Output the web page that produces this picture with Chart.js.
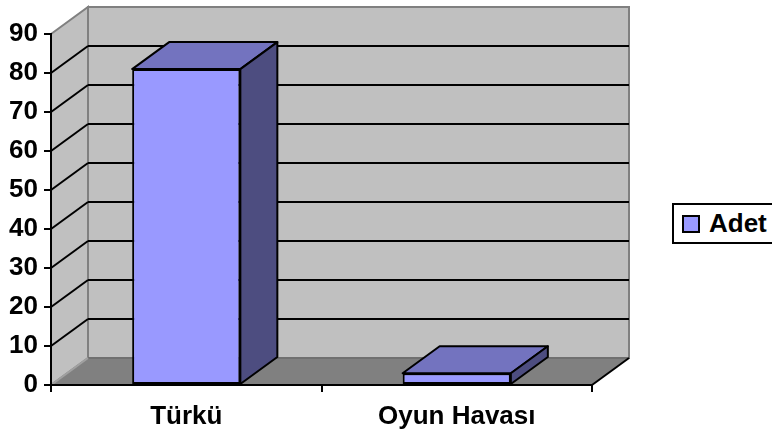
<!DOCTYPE html>
<html>
<head>
<meta charset="utf-8">
<script src="https://cdn.jsdelivr.net/npm/chart.js@4.4.0/dist/chart.umd.min.js"></script>
<style>
    html, body { margin: 0; padding: 0; background: #fff; overflow: hidden; }
    #wrap { position: relative; width: 772px; height: 436px; }
    #legend {
        position: absolute; left: 672px; top: 203px; width: 130px; height: 37px;
        border: 2px solid #000; background: #fff;
        font: bold 26px "Liberation Sans", Arial, sans-serif; color: #000;
        display: flex; align-items: center; box-sizing: content-box;
    }
    #legend .swatch {
        width: 14px; height: 14px; margin-left: 8px; margin-right: 9px;
        border: 2px solid #000; background: #9999FF;
    }
</style>
</head>
<body>
<div id="wrap">
    <canvas id="barChart" width="772" height="436"></canvas>
    <div id="legend"></div>
</div>
<script>
const categories = ['Türkü', 'Oyun Havası'];
const adetValues = [81, 3];
const seriesLabel = 'Adet';
const Y_MAX = 90;
const Y_STEP = 10;

// depth offset of the 3D box (towards the back wall)
const DX = 37;
const DY = -27;

const FONT = { family: '"Liberation Sans", Arial, sans-serif', size: 26, weight: 'bold' };

function poly(ctx, pts, fill, stroke, lw) {
    ctx.beginPath();
    ctx.moveTo(pts[0][0], pts[0][1]);
    for (let i = 1; i < pts.length; i++) ctx.lineTo(pts[i][0], pts[i][1]);
    ctx.closePath();
    if (fill) { ctx.fillStyle = fill; ctx.fill(); }
    if (stroke) { ctx.strokeStyle = stroke; ctx.lineWidth = lw || 2; ctx.stroke(); }
}

function line(ctx, x1, y1, x2, y2, color, lw) {
    ctx.beginPath();
    ctx.moveTo(x1, y1);
    ctx.lineTo(x2, y2);
    ctx.strokeStyle = color;
    ctx.lineWidth = lw || 2;
    ctx.stroke();
}

const box3d = {
    id: 'box3d',
    beforeDraw(chart) {
        const ctx = chart.ctx;
        const { left, right, top, bottom } = chart.chartArea;
        const yScale = chart.scales.y;
        ctx.save();
        // back wall
        poly(ctx, [[left + DX, top + DY], [right + DX, top + DY], [right + DX, bottom + DY], [left + DX, bottom + DY]], '#C0C0C0', '#808080', 2);
        // left wall
        poly(ctx, [[left, top], [left + DX, top + DY], [left + DX, bottom + DY], [left, bottom]], '#C0C0C0', '#808080', 2);
        // floor
        poly(ctx, [[left, bottom], [left + DX, bottom + DY], [right + DX, bottom + DY], [right, bottom]], '#808080', null);
        line(ctx, left + DX, bottom + DY, right + DX, bottom + DY, '#707070', 2);
        line(ctx, left, bottom, left + DX, bottom + DY, '#A0A0A0', 2);
        line(ctx, right, bottom, right + DX, bottom + DY, '#000', 2);
        // grid lines on left and back walls
        for (let v = Y_STEP; v < Y_MAX; v += Y_STEP) {
            const y = yScale.getPixelForValue(v);
            line(ctx, left, y, left + DX, y + DY, '#000', 2);
            line(ctx, left + DX, y + DY, right + DX, y + DY, '#000', 2);
        }
        ctx.restore();
    },
    afterDatasetsDraw(chart) {
        const ctx = chart.ctx;
        const meta = chart.getDatasetMeta(0);
        ctx.save();
        ctx.lineJoin = 'round';
        meta.data.forEach(bar => {
            const { x, y, base, width } = bar.getProps(['x', 'y', 'base', 'width'], true);
            const l = x - width / 2;
            const r = x + width / 2;
            // top face
            poly(ctx, [[l, y], [l + DX, y + DY], [r + DX, y + DY], [r, y]], '#7373BF', '#000', 2);
            // side face
            poly(ctx, [[r, y], [r + DX, y + DY], [r + DX, base + DY], [r, base]], '#4D4D80', '#000', 2);
        });
        ctx.restore();
    }
};

const ctxBar = document.getElementById('barChart').getContext('2d');

const barChart = new Chart(ctxBar, {
    type: 'bar',
    data: {
        labels: categories,
        datasets: [{
            label: seriesLabel,
            data: adetValues,
            backgroundColor: '#9999FF',
            borderColor: '#000',
            borderWidth: 2,
            borderSkipped: false,
            barPercentage: 0.4,
            categoryPercentage: 1,
        }],
    },
    options: {
        responsive: false,
        animation: false,
        layout: { padding: { top: 34, right: 180, bottom: 0, left: 0 } },
        plugins: {
            legend: { display: false },
            tooltip: { enabled: false },
        },
        scales: {
            x: {
                grid: { offset: true, drawOnChartArea: false, tickLength: 7, color: '#000', lineWidth: 2 },
                border: { color: '#000', width: 2 },
                ticks: { color: '#000', font: FONT, padding: 9, maxRotation: 0 },
                afterFit: (scale) => { scale.height = 51; },
            },
            y: {
                min: 0,
                max: Y_MAX,
                grid: { drawOnChartArea: false, tickLength: 7, color: '#000', lineWidth: 2 },
                border: { color: '#000', width: 2 },
                ticks: { stepSize: Y_STEP, color: '#000', font: FONT, padding: 6 },
                afterFit: (scale) => { scale.width = 51; },
            },
        },
    },
    plugins: [box3d],
});

// legend box, built from the dataset
const legendEl = document.getElementById('legend');
barChart.data.datasets.forEach(ds => {
    const sw = document.createElement('span');
    sw.className = 'swatch';
    sw.style.background = ds.backgroundColor;
    legendEl.appendChild(sw);
    legendEl.appendChild(document.createTextNode(ds.label));
});
</script>
</body>
</html>
